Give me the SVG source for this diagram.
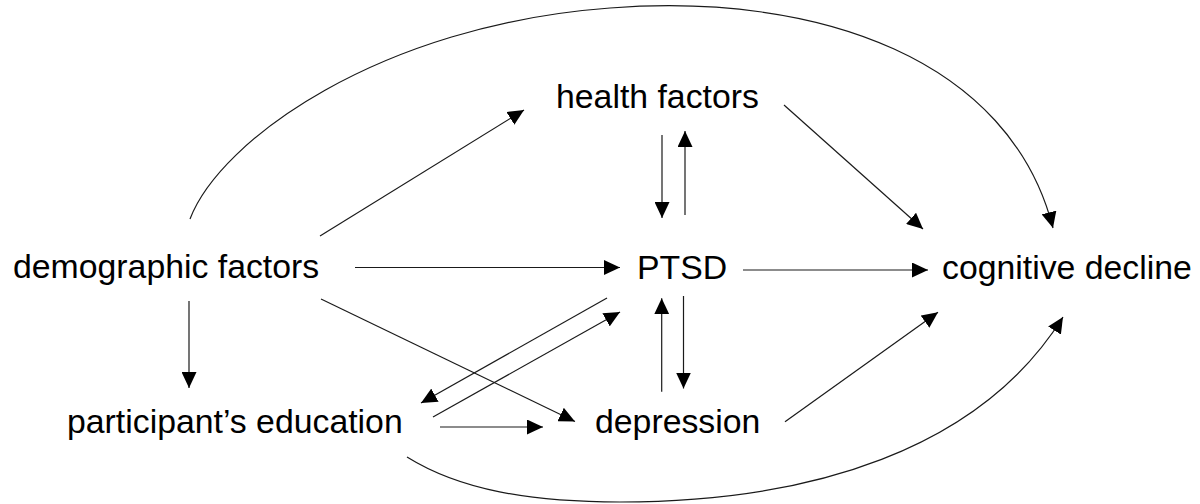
<svg xmlns="http://www.w3.org/2000/svg" width="1200" height="504" viewBox="0 0 1200 504">
<style>
.lbl{font-family:"Liberation Sans",Arial,Helvetica,sans-serif;font-size:33.8px;fill:#000}
.edge{fill:none;stroke:#1a1a1a;stroke-width:1.2;marker-end:url(#ah)}
</style>
<defs>
<marker id="ah" viewBox="0 0 16 15" refX="16" refY="7.5" markerWidth="16" markerHeight="15" markerUnits="userSpaceOnUse" orient="auto">
<path d="M0,0 L16,7.5 L0,15 z" fill="#000"/>
</marker>
</defs>
<rect width="1200" height="504" fill="#fff"/>
<g id="connectors">
<path class="edge" d="M320,236 L524,110"/>
<path class="edge" d="M355,267.5 L620,267.5"/>
<path class="edge" d="M321,299 L575,421.5"/>
<path class="edge" d="M189,301 L189,388"/>
<path class="edge" d="M662,135 L662,218"/>
<path class="edge" d="M685,215 L685,131"/>
<path class="edge" d="M784,105 L923,229"/>
<path class="edge" d="M743,270 L928,270"/>
<path class="edge" d="M607,298 L421,403"/>
<path class="edge" d="M433,417 L620,312"/>
<path class="edge" d="M440,427 L543,427"/>
<path class="edge" d="M683.5,296 L683.5,388.5"/>
<path class="edge" d="M661.7,391.7 L661.7,298.3"/>
<path class="edge" d="M785,421.7 L938,312.3"/>
<path class="edge" d="M190,219 C220,140 380,25 610,8 C820,-8 1010,60 1053,228"/>
<path class="edge" d="M407,457 C460,490 530,502 620,502 C810,502 980,450 1063,317"/>
</g>
<g id="node-demographic"><text class="lbl" x="13" y="278">demographic factors</text></g>
<g id="node-health"><text class="lbl" x="556" y="108">health factors</text></g>
<g id="node-ptsd"><text class="lbl" x="637" y="279">PTSD</text></g>
<g id="node-cognitive"><text class="lbl" x="942" y="279">cognitive decline</text></g>
<g id="node-education"><text class="lbl" x="67" y="433">participant’s education</text></g>
<g id="node-depression"><text class="lbl" x="595" y="433">depression</text></g>
</svg>
